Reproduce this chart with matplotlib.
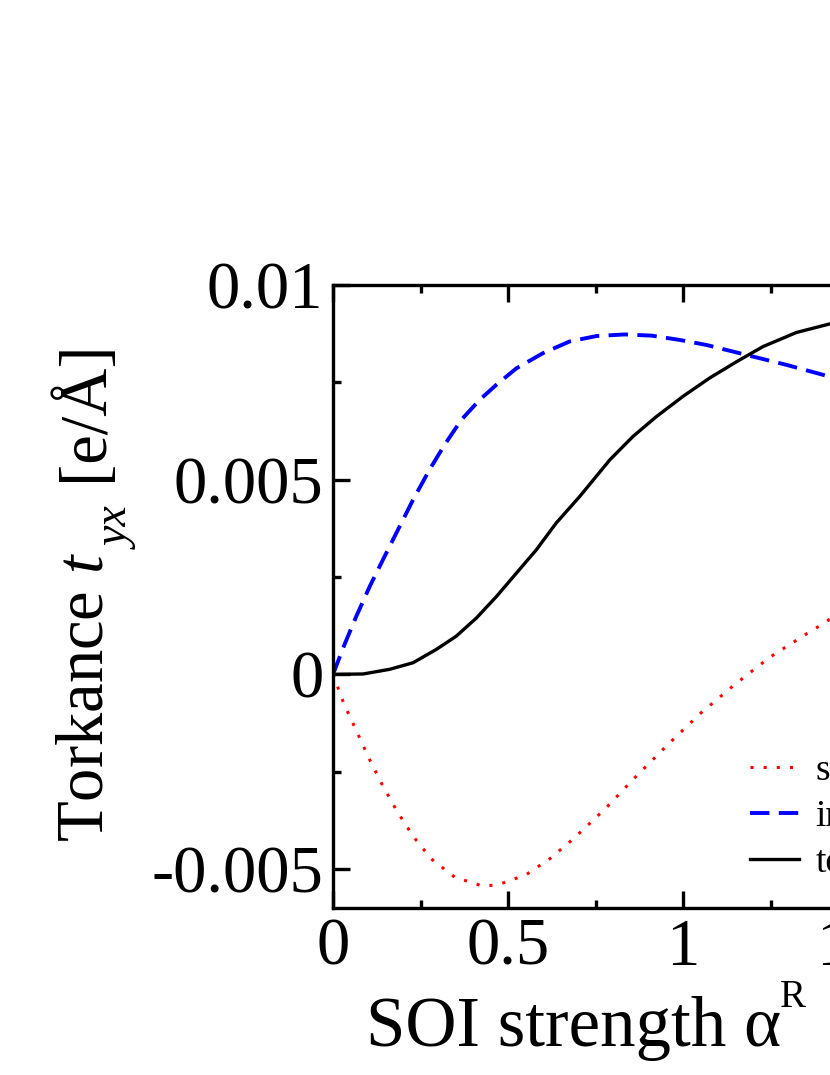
import matplotlib
matplotlib.use('Agg')
import matplotlib.pyplot as plt
from matplotlib.ticker import MultipleLocator, FixedLocator

# torkance components vs SOI strength
x_surf = [0, 0.031, 0.067, 0.103, 0.141, 0.182, 0.229, 0.281, 0.348, 0.429, 0.472,
          0.551, 0.62, 0.686, 0.779, 0.867, 0.957, 1.05, 1.148, 1.248, 1.358, 1.393, 1.45]
t_surf = [0, -0.00075, -0.00145, -0.00216, -0.00284, -0.0035, -0.00416, -0.00474,
          -0.00521, -0.00544, -0.0054, -0.00515, -0.00473, -0.00423, -0.00344,
          -0.00261, -0.0018, -0.001, -0.00026, 0.00044, 0.00107, 0.00126, 0.0016]

x_intr = [0, 0.033, 0.067, 0.105, 0.143, 0.186, 0.229, 0.276, 0.319, 0.367, 0.419,
          0.467, 0.524, 0.6, 0.676, 0.753, 0.833, 0.91, 0.99, 1.067, 1.143, 1.219,
          1.295, 1.381, 1.45]
t_intr = [0, 0.00077, 0.0015, 0.00226, 0.00295, 0.00372, 0.00449, 0.00526, 0.0059,
          0.00654, 0.00705, 0.00744, 0.00786, 0.00825, 0.00855, 0.00869, 0.00873,
          0.0087, 0.00859, 0.00846, 0.00829, 0.00812, 0.00795, 0.00774, 0.00757]

x_tot = [0, 0.086, 0.162, 0.229, 0.295, 0.352, 0.41, 0.467, 0.524, 0.581, 0.638,
         0.705, 0.791, 0.857, 0.924, 1.0, 1.076, 1.153, 1.229, 1.324, 1.419, 1.45]
t_tot = [0, 0.00001, 0.00013, 0.0003, 0.00064, 0.00098, 0.00145, 0.002, 0.0026,
         0.0032, 0.00389, 0.00457, 0.00551, 0.00611, 0.00662, 0.00714, 0.00761,
         0.00803, 0.00842, 0.00878, 0.009, 0.00905]

labels = ['surface', 'intrinsic', 'total']
yticks = [-0.005, 0, 0.005, 0.01]
ytick_labels = ['-0.005', '0', '0.005', '0.01']
xticks = [0, 0.5, 1, 1.5, 2]
xtick_labels = ['0', '0.5', '1', '1.5', '2']

plt.rcParams['font.family'] = 'Liberation Serif'
plt.rcParams['mathtext.fontset'] = 'custom'
plt.rcParams['mathtext.rm'] = 'Liberation Serif'
plt.rcParams['mathtext.it'] = 'Liberation Serif:italic'

W, H = 830, 1075
fig = plt.figure(figsize=(W / 100, H / 100), dpi=100)
# axes runs past the right edge like the cropped original
ax = fig.add_axes([333 / W, 1 - 908 / H, 700 / W, 623 / H])

ax.plot(x_surf, t_surf, color='red', lw=2.2, linestyle=(0, (1, 3.3)), label=labels[0])
ax.plot(x_intr, t_intr, color='blue', lw=2.8, linestyle=(0, (5, 2.4)), label=labels[1])
ax.plot(x_tot, t_tot, color='black', lw=2.4, label=labels[2])

ax.set_xlim(0, 2)
ax.set_ylim(-0.006, 0.01)
ax.xaxis.set_major_locator(FixedLocator(xticks))
ax.set_xticklabels(xtick_labels)
ax.xaxis.set_minor_locator(MultipleLocator(0.25))
ax.yaxis.set_major_locator(FixedLocator(yticks))
ax.set_yticklabels(ytick_labels)
ax.yaxis.set_minor_locator(MultipleLocator(0.0025))

ax.tick_params(which='both', direction='in', top=True, right=True, width=2.4,
               labelsize=48)
ax.tick_params(which='major', length=12, pad=7)
ax.tick_params(which='minor', length=6)
for s in ax.spines.values():
    s.set_linewidth(2.4)


def ftext(x, y, s, **kw):
    # place text by pixel position, baseline anchored
    return fig.text(x / W, 1 - y / H, s, ha='left', va='baseline',
                    rotation_mode='anchor', **kw)


# x label: upright alpha with raised R
ftext(366, 1046, 'SOI strength α', fontsize=51)
ftext(780, 1007, 'R', fontsize=28)

# y label, built piecewise so the subscript sits low like the original
ftext(102, 842, 'Torkance $t$', fontsize=48, rotation=90)
ftext(130, 549, 'yx', fontsize=33, style='italic', rotation=90)
ftext(102, 481, '[e/Å]', fontsize=48, rotation=90)

ax.legend(loc='upper left', bbox_to_anchor=(750 / W, 1 - 754 / H),
          bbox_transform=fig.transFigure, frameon=False, fontsize=27,
          borderpad=0, borderaxespad=0, handlelength=1.3, handletextpad=0.45,
          labelspacing=0.3)

fig.savefig('out.png', dpi=100)
